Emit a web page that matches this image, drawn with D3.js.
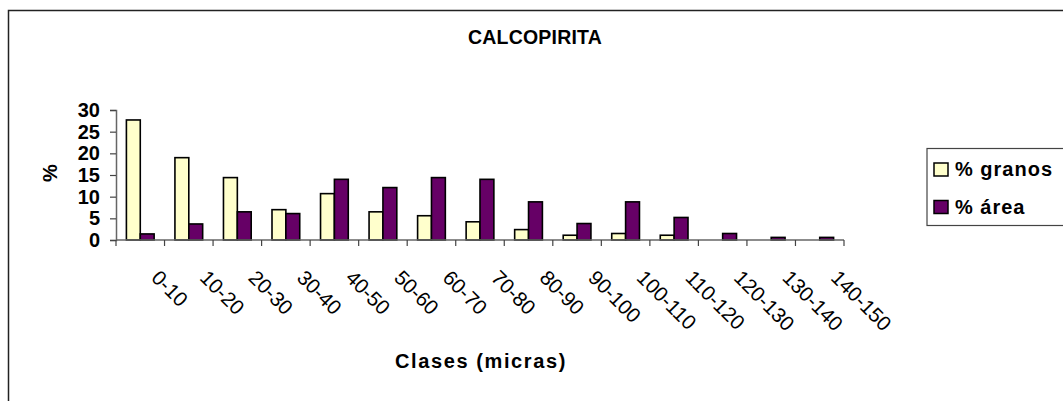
<!DOCTYPE html>
<html>
<head>
<meta charset="utf-8">
<script src="https://cdn.jsdelivr.net/npm/d3@7"></script>
<style>
  body { margin: 0; background: #fff; }
  text { font-family: "Liberation Sans", Arial, sans-serif; }
</style>
</head>
<body>
<div id="chart"></div>
<script>
// data
var clases = ["0-10", "10-20", "20-30", "30-40", "40-50", "50-60", "60-70", "70-80",
              "80-90", "90-100", "100-110", "110-120", "120-130", "130-140", "140-150"]
var granos = [27.7, 19.0, 14.4, 7.0, 10.7, 6.5, 5.6, 4.2, 2.4, 1.1, 1.5, 1.1, 0, 0, 0]
var area = [1.4, 3.7, 6.5, 6.1, 14.0, 12.1, 14.4, 14.0, 8.8, 3.8, 8.8, 5.2, 1.5, 0.6, 0.6]
var series = ["% granos", "% área"]
var colors = ["#ffffcc", "#660066"]
var yTicks = [0, 5, 10, 15, 20, 25, 30]

var W = 1063, H = 401
var svg = d3.select("#chart").append("svg")
    .attr("width", W)
    .attr("height", H)

// outer frame (runs off the right and bottom edges)
svg.append("rect")
    .attr("x", 8.5).attr("y", 10.5)
    .attr("width", 1200).attr("height", 600)
    .attr("fill", "none")
    .attr("stroke", "#222")
    .attr("stroke-width", 1.5)

var x = d3.scaleBand().domain(clases).range([116, 844])
var x1 = d3.scaleBand().domain(series).range([0, x.bandwidth()]).paddingOuter(0.75)
var y = d3.scaleLinear().domain([0, 30]).range([240, 110])

var table = clases.map(function(c, i) {
    return {clase: c, values: [
        {s: series[0], v: granos[i], c: colors[0]},
        {s: series[1], v: area[i], c: colors[1]}
    ]}
})

// bars
svg.append("g")
    .selectAll("g")
    .data(table)
    .enter()
    .append("g")
    .attr("transform", function(d) { return "translate(" + x(d.clase) + ",0)" })
    .selectAll("rect")
    .data(function(d) { return d.values.filter(function(v) { return v.v > 0 }) })
    .enter()
    .append("rect")
    .attr("x", function(d) { return x1(d.s) })
    .attr("y", function(d) { return y(d.v) })
    .attr("width", x1.bandwidth())
    .attr("height", function(d) { return y(0) - y(d.v) })
    .attr("fill", function(d) { return d.c })
    .attr("stroke", "#000")
    .attr("stroke-width", 1.6)

// y axis
var yAxis = svg.append("g")
    .attr("transform", "translate(116,0)")
    .call(d3.axisLeft(y).tickValues(yTicks).tickSize(6).tickPadding(10))
yAxis.select(".domain").attr("stroke", "#666").attr("stroke-width", 1.5)
yAxis.selectAll(".tick line").attr("stroke", "#444").attr("stroke-width", 1.2)
yAxis.selectAll(".tick text")
    .attr("font-size", 20)
    .attr("font-weight", "bold")
    .attr("fill", "#000")
    .attr("font-family", "Liberation Sans, Arial, sans-serif")

// x axis, ticks between categories
var xTickPos = d3.range(clases.length + 1).map(function(i) { return 116 + i * x.step() })
var xAxis = svg.append("g")
xAxis.append("line")
    .attr("x1", 116).attr("x2", 844)
    .attr("y1", y(0)).attr("y2", y(0))
    .attr("stroke", "#666").attr("stroke-width", 1.5)
xAxis.selectAll("line.tk")
    .data(xTickPos)
    .enter()
    .append("line")
    .attr("class", "tk")
    .attr("x1", function(d) { return d }).attr("x2", function(d) { return d })
    .attr("y1", y(0)).attr("y2", y(0) + 6)
    .attr("stroke", "#444").attr("stroke-width", 1.2)

xAxis.selectAll("text")
    .data(clases)
    .enter()
    .append("text")
    .attr("transform", function(d) {
        return "translate(" + (x(d) + x.bandwidth() / 2 + 10) + ",279) rotate(45)"
    })
    .attr("font-size", 20.5)
    .attr("fill", "#000")
    .text(function(d) { return d })

// titles
svg.append("text")
    .attr("x", 535).attr("y", 44)
    .attr("text-anchor", "middle")
    .attr("font-size", 19.5)
    .attr("font-weight", "bold")
    .attr("letter-spacing", 0.2)
    .text("CALCOPIRITA")

svg.append("text")
    .attr("x", 481).attr("y", 368)
    .attr("text-anchor", "middle")
    .attr("font-size", 20)
    .attr("font-weight", "bold")
    .attr("letter-spacing", 1.6)
    .text("Clases (micras)")

svg.append("text")
    .attr("transform", "translate(57,173) rotate(-90)")
    .attr("text-anchor", "middle")
    .attr("font-size", 20)
    .attr("font-weight", "bold")
    .text("%")

// legend
var legend = svg.append("g")
legend.append("rect")
    .attr("x", 927).attr("y", 148.5)
    .attr("width", 200).attr("height", 77)
    .attr("fill", "#fff")
    .attr("stroke", "#444")
    .attr("stroke-width", 1.2)
var li = legend.selectAll("g.item")
    .data(series)
    .enter()
    .append("g")
    .attr("class", "item")
    .attr("transform", function(d, i) { return "translate(934," + (163 + i * 37.5) + ")" })
li.append("rect")
    .attr("width", 14).attr("height", 13)
    .attr("fill", function(d, i) { return colors[i] })
    .attr("stroke", "#000")
    .attr("stroke-width", 1.5)
li.append("text")
    .attr("x", 21).attr("y", 13)
    .attr("font-size", 20)
    .attr("font-weight", "bold")
    .attr("letter-spacing", 1)
    .text(function(d) { return d })
</script>
</body>
</html>
